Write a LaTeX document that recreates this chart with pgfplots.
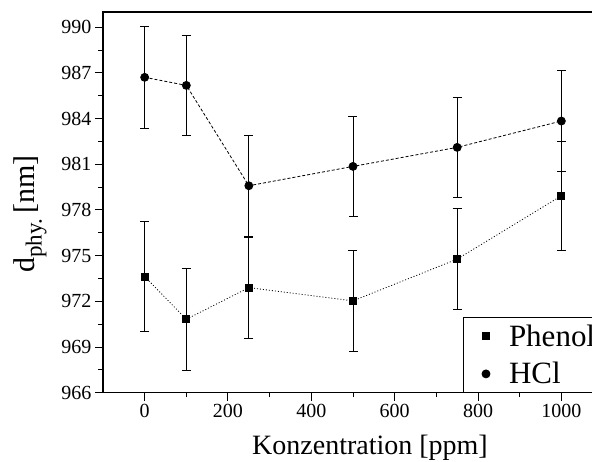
\documentclass[border=0pt]{standalone}
\usepackage{pgfplots}
\pgfplotsset{compat=1.18}
\usepackage{fontspec}
\setmainfont{Liberation Serif}
\begin{document}
\begin{tikzpicture}
\begin{axis}[
  name=ax,
  scale only axis,
  width=500pt, height=380.7pt,
  xmin=-100, xmax=1100, ymin=966, ymax=991,
  xtick={0,200,400,600,800,1000},
  ytick={966,969,972,975,978,981,984,987,990},
  minor x tick num=1, minor y tick num=1,
  tick pos=left, tick align=outside,
  major tick length=8pt, minor tick length=4.5pt,
  every tick/.style={black, line width=1pt},
  axis line style={line width=1.2pt},
  /pgf/number format/assume math mode=true,
  /pgf/number format/1000 sep={},
  ticklabel style={font=\fontsize{20}{20}\selectfont},
  xlabel={Konzentration [ppm]},
  ylabel={d\raisebox{-0.55ex}{\fontsize{23}{23}\selectfont phy.}\,[nm]},
  xlabel style={font=\fontsize{28}{28}\selectfont, at={(axis description cs:0.534,-0.1636)}, anchor=base},
  ylabel style={font=\fontsize{30}{30}\selectfont, at={(axis description cs:-0.146,0.469)}, anchor=center},
  legend style={at={(axis description cs:0.7206,0)}, anchor=south west, draw=black, line width=0.8pt,
    font=\fontsize{31}{31}\selectfont, inner sep=0pt, outer sep=0pt, row sep=0pt, cells={anchor=west}},
  legend image code/.code={\path[draw=none, fill=none] (-22.7pt,-18.8pt) rectangle (21pt,18.8pt);
    \draw[#1, only marks, solid] plot coordinates {(0pt,0pt)};},
  error bars/y dir=both, error bars/y explicit,
  error bars/error bar style={line width=0.9pt, black, solid},
  error bars/error mark options={rotate=90, mark size=4.5pt, line width=0.9pt, black},
]
\addplot[black, line width=0.8pt, dash pattern=on 1pt off 2pt, mark=square*,
  mark size=3.5pt, mark options={solid}]
  table[x=x, y=y, y error=e] {
  x y e
  0 973.63 3.64
  100 970.82 3.37
  250 972.90 3.32
  500 972.03 3.34
  750 974.77 3.30
  1000 978.93 3.57
};
\addlegendentry{Phenol}
\addplot[black, line width=0.8pt, dash pattern=on 3pt off 2pt, mark=*,
  mark size=4pt, mark options={solid}]
  table[x=x, y=y, y error=e] {
  x y e
  0 986.71 3.37
  100 986.18 3.30
  250 979.59 3.31
  500 980.86 3.27
  750 982.11 3.31
  1000 983.84 3.31
};
\addlegendentry{HCl}
\end{axis}
\pgfresetboundingbox
\path[use as bounding box] ([xshift=-103pt,yshift=-69.3pt]ax.south west) rectangle ([xshift=489pt,yshift=12pt]ax.north west);
\end{tikzpicture}
\end{document}
